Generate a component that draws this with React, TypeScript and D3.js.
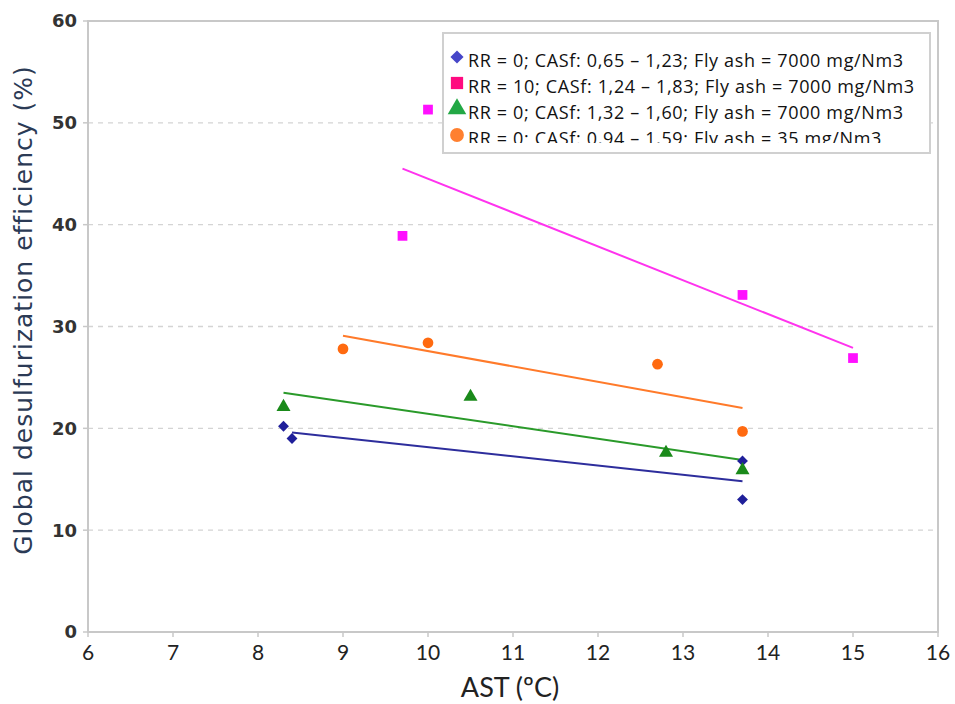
import React from "react";
import * as d3 from "d3";

const xTicks = [6, 7, 8, 9, 10, 11, 12, 13, 14, 15, 16];
const yTicks = [0, 10, 20, 30, 40, 50, 60];

const seriesNames = [
  "RR = 0; CASf: 0,65 – 1,23; Fly ash = 7000 mg/Nm3",
  "RR = 10; CASf: 1,24 – 1,83; Fly ash = 7000 mg/Nm3",
  "RR = 0; CASf: 1,32 – 1,60; Fly ash = 7000 mg/Nm3",
  "RR = 0; CASf: 0,94 – 1,59; Fly ash = 35 mg/Nm3",
];

const blueX = [8.3, 8.4, 13.7, 13.7];
const blueY = [20.2, 19.0, 16.8, 13.0];
const blueFitX = [8.4, 13.7];
const blueFitY = [19.6, 14.8];

const pinkX = [9.7, 10.0, 13.7, 15.0];
const pinkY = [38.9, 51.3, 33.1, 26.9];
const pinkFitX = [9.7, 15.0];
const pinkFitY = [45.5, 27.9];

const greenX = [8.3, 10.5, 12.8, 13.7];
const greenY = [22.1, 23.1, 17.6, 15.9];
const greenFitX = [8.3, 13.7];
const greenFitY = [23.5, 16.9];

const orangeX = [9.0, 10.0, 12.7, 13.7];
const orangeY = [27.8, 28.4, 26.3, 19.7];
const orangeFitX = [9.0, 13.7];
const orangeFitY = [29.1, 22.0];

const W = 955;
const H = 704;
const L = 88, R = 938, T = 21, B = 632;

export default function App() {
  const x = d3.scaleLinear().domain([6, 16]).range([L, R]);
  const y = d3.scaleLinear().domain([0, 60]).range([B, T]);
  const line = d3.line<[number, number]>().x((d) => x(d[0])).y((d) => y(d[1]));

  const series = [
    { xs: blueX, ys: blueY, fx: blueFitX, fy: blueFitY, shape: "diamond", mark: "#1f1f9a", lineC: "#2d2d9c", legC: "#4646c8" },
    { xs: pinkX, ys: pinkY, fx: pinkFitX, fy: pinkFitY, shape: "square", mark: "#ff10ff", lineC: "#ff33ee", legC: "#ff0a80" },
    { xs: greenX, ys: greenY, fx: greenFitX, fy: greenFitY, shape: "triangle", mark: "#1a8a1a", lineC: "#2a9a2a", legC: "#22a845" },
    { xs: orangeX, ys: orangeY, fx: orangeFitX, fy: orangeFitY, shape: "circle", mark: "#ff6a10", lineC: "#ff7a2a", legC: "#ff8030" },
  ];

  const sym = (shape: string, size: number) => {
    const t =
      shape === "diamond" ? d3.symbolDiamond2 :
      shape === "square" ? d3.symbolSquare :
      shape === "triangle" ? d3.symbolTriangle : d3.symbolCircle;
    return d3.symbol().type(t).size(size)() as string;
  };
  const markSize: Record<string, number> = { diamond: 75, square: 95, triangle: 85, circle: 90 };

  const legX = 443, legY = 33, legW = 487, legH = 120;
  const rowBase = [67, 93, 119, 145];

  return (
    <svg width={W} height={H} style={{ position: "absolute", left: 0, top: 0, background: "#fff" }}>
      <defs>
        <clipPath id="legclip">
          <rect x={legX} y={legY} width={legW} height={110} />
        </clipPath>
      </defs>
      {/* gridlines */}
      {yTicks.filter((t) => t > 0 && t < 60).map((t) => (
        <line key={t} x1={L} x2={R} y1={y(t)} y2={y(t)} stroke="#d4d4d4" strokeWidth={1.3} strokeDasharray="5,5" />
      ))}
      {/* frame */}
      <rect x={L} y={T} width={R - L} height={B - T} fill="none" stroke="#c8c8c8" strokeWidth={2} />
      {/* ticks */}
      {xTicks.map((t) => (
        <line key={t} x1={x(t)} x2={x(t)} y1={B} y2={B + 5} stroke="#c8c8c8" strokeWidth={1.5} />
      ))}
      {yTicks.map((t) => (
        <line key={t} x1={L - 5} x2={L} y1={y(t)} y2={y(t)} stroke="#c8c8c8" strokeWidth={1.5} />
      ))}
      {/* tick labels */}
      {yTicks.map((t) => (
        <text key={t} x={L - 11} y={y(t)} dy="0.36em" textAnchor="end" fontFamily="'DejaVu Sans', sans-serif" fontWeight={700} fontSize={18} fill="#333">
          {t}
        </text>
      ))}
      {xTicks.map((t) => (
        <text key={t} x={x(t)} y={B + 28} textAnchor="middle" fontFamily="Lato, sans-serif" fontSize={21} fill="#222">
          {t}
        </text>
      ))}
      {/* axis titles */}
      <text x={510} y={697} textAnchor="middle" fontFamily="Lato, sans-serif" fontSize={27} fill="#222">
        AST (ºC)
      </text>
      <text transform={`translate(32, 310) rotate(-90)`} textAnchor="middle" fontFamily="'DejaVu Sans', sans-serif" fontSize={25} letterSpacing={1} fill="#2b3a55">
        Global desulfurization efficiency (%)
      </text>
      {/* fit lines */}
      {series.map((s, i) => (
        <path key={"l" + i} d={line(s.fx.map((v, j) => [v, s.fy[j]]) as [number, number][]) || ""} fill="none" stroke={s.lineC} strokeWidth={2} />
      ))}
      {/* markers */}
      {series.map((s, i) =>
        s.xs.map((v, j) => (
          <path key={"m" + i + "-" + j} d={sym(s.shape, markSize[s.shape])} transform={`translate(${x(v)},${y(s.ys[j])})`} fill={s.mark} />
        ))
      )}
      {/* legend */}
      <rect x={legX} y={legY} width={legW} height={legH} fill="#fff" stroke="#d0d0d0" strokeWidth={2} />
      <g clipPath="url(#legclip)">
        {series.map((s, i) => (
          <g key={"g" + i}>
            <path d={sym(s.shape, s.shape === "diamond" ? 110 : 150)} transform={`translate(457,${rowBase[i] - 10})`} fill={s.legC} />
            <text x={468} y={rowBase[i]} fontFamily="'Open Sans', sans-serif" fontSize={18} letterSpacing={0.65} fill="#111">
              {seriesNames[i]}
            </text>
          </g>
        ))}
      </g>
    </svg>
  );
}
